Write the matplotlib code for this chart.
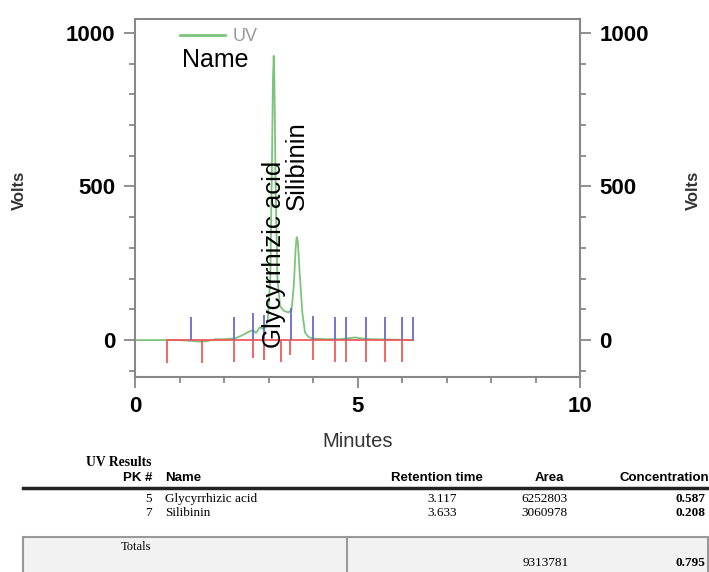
import numpy as np
import matplotlib.pyplot as plt
from matplotlib.ticker import MultipleLocator
from matplotlib.patches import Rectangle
from matplotlib.lines import Line2D

tempo = [0.0, 0.5, 1.0, 1.3, 1.45, 1.6, 1.8, 2.0, 2.25, 2.4, 2.54, 2.65, 2.72,
         2.8, 2.9, 2.98, 3.04, 3.08, 3.1, 3.117, 3.13, 3.16, 3.2, 3.26, 3.35,
         3.45, 3.52, 3.57, 3.61, 3.633, 3.66, 3.7, 3.76, 3.82, 3.9, 4.0, 4.3,
         4.6, 4.85, 4.95, 5.05, 5.3, 5.7, 6.0, 6.25]
volts = [0, 0, 0, -3, -5, -4, 3, 3, 6, 15, 26, 33, 23, 42, 35, 60, 200, 600,
         850, 925, 870, 500, 200, 110, 95, 90, 100, 180, 300, 335, 320, 220,
         90, 25, 10, 5, 3, 3, 7, 9, 6, 3, 2, 1, 0]

# Marcas de integracao (inicio/fim dos picos)
red_x = [0.71, 1.50, 2.23, 2.65, 2.90, 3.28, 3.48, 4.01, 4.49, 4.74, 5.19, 5.62, 6.00]
red_bottom = [-74, -74, -71, -59, -65, -70, -49, -65, -70, -70, -70, -70, -70]
blue_x = [1.25, 2.23, 2.65, 2.90, 3.50, 4.01, 4.49, 4.74, 5.19, 5.62, 6.00, 6.25]
blue_top = [75, 75, 87, 81, 103, 78, 75, 75, 75, 75, 75, 75]
baseline_start = 0.71
baseline_end = 6.25

# Nomes dos picos
pico_nomes = ['Glycyrrhizic acid', 'Silibinin']
pico_tempos = [3.117, 3.633]
pico_base = [-26, 423]

# Tabela de resultados
pk_num = ['5', '7']
tab_nomes = ['Glycyrrhizic acid', 'Silibinin']
tab_ret = ['3.117', '3.633']
tab_area = ['6252803', '3060978']
tab_conc = ['0.587', '0.208']
total_area = '9313781'
total_conc = '0.795'

verde = '#7cc47c'
vermelho = '#f05a5a'
azul = '#6a6ad0'
cinza = '#888888'

fig = plt.figure(figsize=(7.09, 5.72), dpi=100)
W, H = 709, 572


def fx(px):
    return px / W


def fy(py):
    return 1 - py / H


ax = fig.add_axes([fx(135), fy(377), fx(580) - fx(135), fy(19) - fy(377)])

ax.plot(tempo, volts, color=verde, lw=1.3, zorder=2)
ax.plot([baseline_start, baseline_end], [0, 0], color=vermelho, lw=1.3, zorder=3)
ax.vlines(red_x, red_bottom, 0, colors=vermelho, lw=1.3, zorder=3)
ax.vlines(blue_x, 0, blue_top, colors=azul, lw=1.3, zorder=3)

ax.set_xlim(0, 10)
ax.set_ylim(-120, 1045)
ax.set_xticks([0, 5, 10])
ax.set_yticks([0, 500, 1000])
ax.xaxis.set_minor_locator(MultipleLocator(1))
ax.yaxis.set_minor_locator(MultipleLocator(100))

for s in ax.spines.values():
    s.set_color(cinza)
    s.set_linewidth(1.5)

ax.tick_params(which='both', direction='out', color=cinza, width=1.3,
               right=True, labelright=True, top=False)
ax.tick_params(which='major', length=8, labelsize=16, pad=6)
ax.tick_params(which='minor', length=4)
for lab in ax.get_xticklabels() + ax.get_yticklabels():
    lab.set_fontfamily('Liberation Sans')
    lab.set_fontweight('bold')

ax.set_xlabel('Minutes', fontsize=14.5, family='Liberation Sans', color='#333333')
ax.xaxis.set_label_coords(0.5, -0.154)
ax.set_ylabel('Volts', fontsize=12, family='Liberation Sans', fontweight='bold', color='#333333')
ax.yaxis.set_label_coords(-0.243, 0.52)
ax.text(1.254, 0.52, 'Volts', transform=ax.transAxes, rotation=90, fontsize=12,
        family='Liberation Sans', fontweight='bold', color='#333333', ha='center', va='center')

# legenda e titulo da coluna
leg = ax.legend([Line2D([], [], color=verde, lw=2)], ['UV'], loc='upper left',
                bbox_to_anchor=(0.101, 0.975), frameon=False, borderpad=0,
                borderaxespad=0, handlelength=2.5, handletextpad=0.4,
                prop={'family': 'Liberation Sans', 'size': 13})
for t in leg.get_texts():
    t.set_color('#999999')
ax.text(0.106, 0.885, 'Name', transform=ax.transAxes, fontsize=18,
        family='Liberation Sans', va='center', ha='left')

for nome, t, b in zip(pico_nomes, pico_tempos, pico_base):
    ax.text(t, b, nome, rotation=90, fontsize=18.5, family='Liberation Sans',
            ha='center', va='bottom', zorder=4)

# ---- tabela ----
serif = 'Liberation Serif'
sans = 'Liberation Sans'
fig.text(fx(152), fy(462), 'UV Results', family=serif, fontweight='bold', fontsize=9.8,
         ha='right', va='center')
fig.text(fx(152), fy(478), 'PK #', family=sans, fontweight='bold', fontsize=9.5,
         ha='right', va='center')
fig.text(fx(165), fy(478), 'Name', family=sans, fontweight='bold', fontsize=9.5,
         ha='left', va='center')
fig.text(fx(437), fy(478), 'Retention time', family=sans, fontweight='bold', fontsize=9.5,
         ha='center', va='center')
fig.text(fx(549), fy(478), 'Area', family=sans, fontweight='bold', fontsize=9.5,
         ha='center', va='center')
fig.text(fx(709), fy(478), 'Concentration', family=sans, fontweight='bold', fontsize=9.5,
         ha='right', va='center')
fig.add_artist(Line2D([fx(23), fx(709)], [fy(488), fy(488)], color='#222222', lw=2.5))

for i in range(len(pk_num)):
    y = fy(499 + 14 * i)
    fig.text(fx(152), y, pk_num[i], family=serif, fontsize=9.5, ha='right', va='center')
    fig.text(fx(165), y, tab_nomes[i], family=serif, fontsize=9.5, ha='left', va='center')
    fig.text(fx(442), y, tab_ret[i], family=serif, fontsize=9.5, ha='center', va='center')
    fig.text(fx(544), y, tab_area[i], family=serif, fontsize=9.5, ha='center', va='center')
    fig.text(fx(706), y, tab_conc[i], family=serif, fontsize=9.5, fontweight='bold',
             ha='right', va='center')

fig.add_artist(Rectangle((fx(23), fy(590)), fx(708) - fx(23), fy(537) - fy(590),
                         transform=fig.transFigure, facecolor='#f2f2f2',
                         edgecolor='#999999', lw=1.5))
fig.add_artist(Line2D([fx(347), fx(347)], [fy(537), fy(590)], color='#999999', lw=1.5))
fig.text(fx(136), fy(547), 'Totals', family=serif, fontsize=9, ha='center', va='center')
fig.text(fx(546), fy(563), total_area, family=serif, fontsize=9.5, ha='center', va='center')
fig.text(fx(705), fy(563), total_conc, family=serif, fontsize=9.5, fontweight='bold',
         ha='right', va='center')

fig.savefig('out.png', dpi=100)
